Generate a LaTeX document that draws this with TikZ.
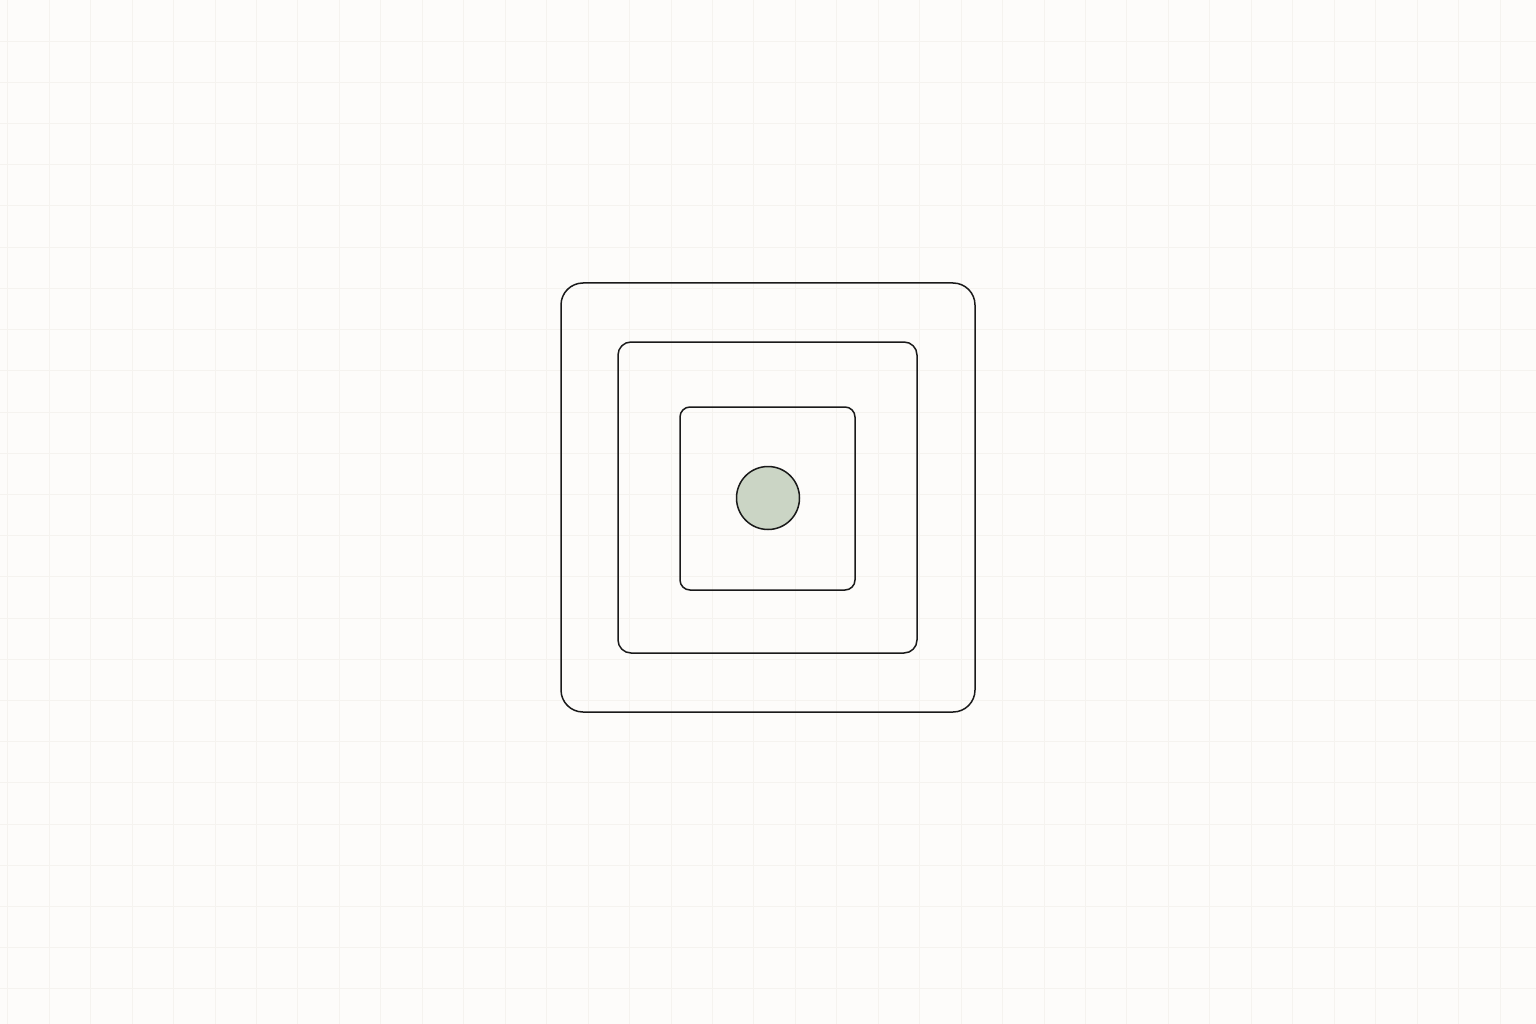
\documentclass[tikz,border=0pt]{standalone}
\definecolor{bgcol}{HTML}{FDFCFA}
\definecolor{gridcol}{HTML}{F5F3EF}
\definecolor{inkcol}{HTML}{1A1A1A}
\definecolor{dotfill}{HTML}{CBD5C5}
\begin{document}
\begin{tikzpicture}[x=1pt,y=-1pt,
  gridline/.style={draw=gridcol,line width=1pt},
  ringbox/.style={draw=inkcol,line width=1.5pt,fill=none,inner sep=0pt,rectangle},
  coredot/.style={draw=inkcol,line width=1.5pt,fill=dotfill,circle,inner sep=0pt,minimum size=63pt}]
\fill[bgcol] (0,0) rectangle (1536,1024);
\useasboundingbox (0,0) rectangle (1536,1024);
\foreach \i in {0,...,37} {
  \draw[gridline] ({7.8+41.45*\i},0) -- ({7.8+41.45*\i},1024);
}
\foreach \j in {1,...,24} {
  \draw[gridline] (0,{41.2*\j}) -- (1536,{41.2*\j});
}
\node[ringbox,rounded corners=22pt,minimum width=414pt,minimum height=429pt] (outer) at (768,497.5) {};
\node[ringbox,rounded corners=13pt,minimum width=299pt,minimum height=311pt] (middle) at (767.5,497.5) {};
\node[ringbox,rounded corners=10pt,minimum width=175pt,minimum height=183pt] (inner) at (767.5,498.5) {};
\node[coredot] (core) at (768,498) {};
\end{tikzpicture}
\end{document}
